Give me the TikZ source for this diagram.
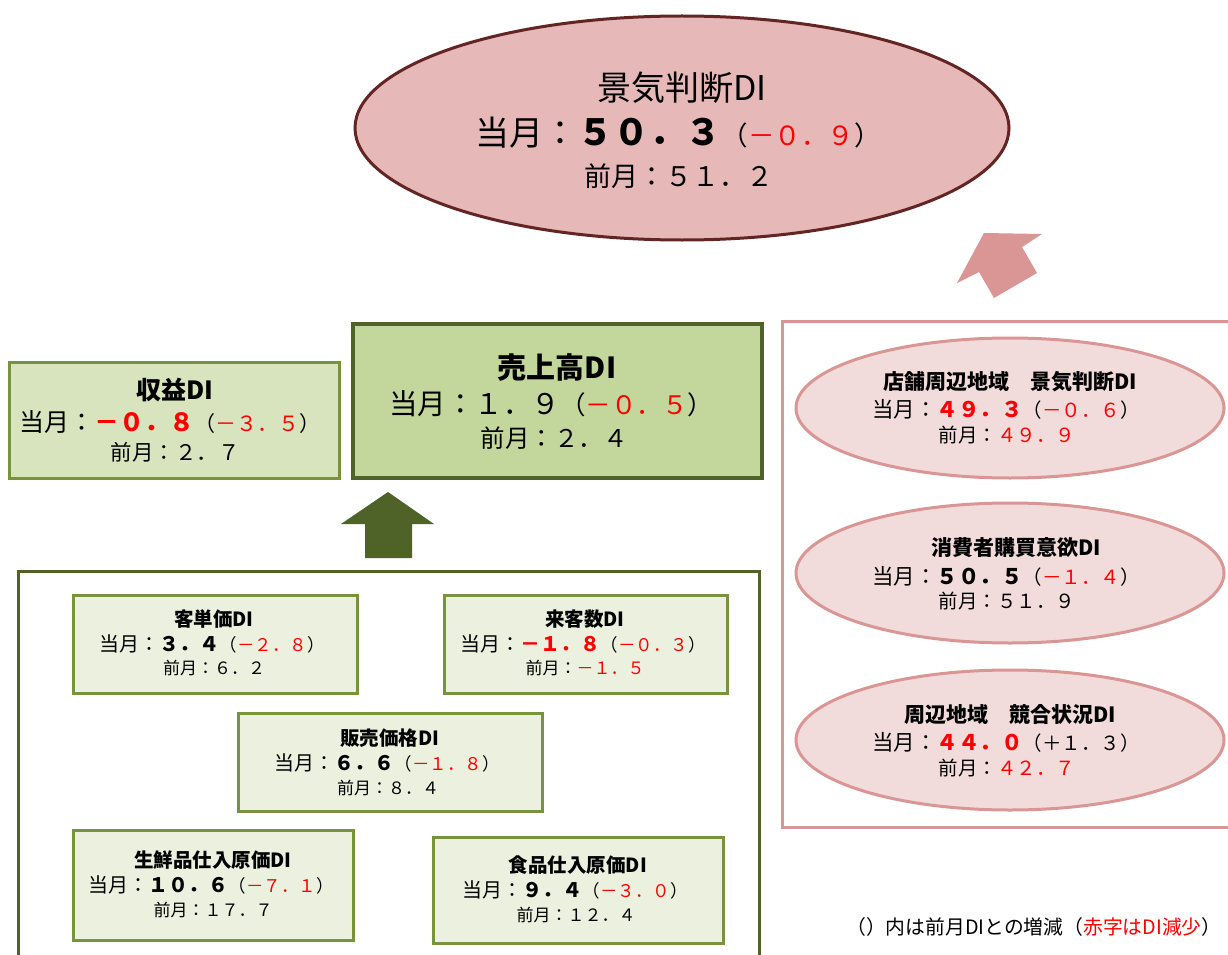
\documentclass[tikz,border=0pt]{standalone}
\usepackage{fontspec}
\setmainfont{Noto Sans CJK JP}
\usetikzlibrary{shapes.geometric}
\definecolor{bigfill}{HTML}{E6B8B7}
\definecolor{bigline}{HTML}{632523}
\definecolor{pinkline}{HTML}{D99694}
\definecolor{pinkfill}{HTML}{F2DCDB}
\definecolor{gfill1}{HTML}{D7E4BD}
\definecolor{gfill2}{HTML}{C3D69B}
\definecolor{gfill3}{HTML}{EBF1DE}
\definecolor{gline}{HTML}{77933C}
\definecolor{dgline}{HTML}{4F6228}
\newcommand{\rd}[1]{\textcolor{red}{#1}}
\newcommand{\fs}[1]{\fontsize{#1}{#1}\selectfont}
\tikzset{
  bigell/.style={ellipse, draw=bigline, fill=bigfill, line width=3pt, minimum width=654pt, minimum height=224pt, inner sep=0pt},
  pinkell/.style={ellipse, draw=pinkline, fill=pinkfill, line width=3pt, minimum width=428pt, minimum height=140pt, inner sep=0pt},
  gbox/.style={rectangle, draw=gline, fill=gfill3, line width=3pt, inner sep=0pt},
  txt/.style={inner sep=0pt, text=black},
  btitle/.style={txt, font=\fs{19.5}\bfseries},
  bprev/.style={txt, font=\fs{17}},
}
\begin{document}
\begin{tikzpicture}[x=1pt,y=-1pt]
\useasboundingbox (0,0) rectangle (1228,955);
\clip (0,0) rectangle (1228,955);
\fill[white] (0,0) rectangle (1228,955);

% top ellipse
\node[bigell] (top) at (682,128) {};
\node[txt, font=\fs{34}] (topa) at (682,88) {景気判断DI};
\node[txt] (topb) at (678,133) {\fs{34}当月：\fs{36}\bfseries ５０．３\mdseries\fs{26.5}（\rd{－０．９}）};
\node[txt, font=\fs{27}] (topc) at (679,176) {前月：５１．２};

% pink arrow
\fill[pinkline] (984,233) -- (1042,234) -- (1022,247) -- (1037,273) -- (994,298) -- (979,272) -- (957,283) -- cycle;

% 収益DI
\node[rectangle, draw=gline, fill=gfill1, line width=3pt, minimum width=330pt, minimum height=116pt, inner sep=0pt] (shueki) at (174,420) {};
\node[txt, font=\fs{25}\bfseries] (shuekia) at (175,390) {収益DI};
\node[txt] (shuekib) at (170,422) {\fs{25}当月：\bfseries\rd{－０．８}\mdseries\fs{21}（\rd{－３．５}）};
\node[txt, font=\fs{21.5}] (shuekic) at (175,452) {前月：２．７};

% 売上高DI
\node[rectangle, draw=dgline, fill=gfill2, line width=3.5pt, minimum width=409pt, minimum height=154pt, inner sep=0pt] (uri) at (557.5,401) {};
\node[txt, font=\fs{29}\bfseries] (uria) at (557,368) {売上高DI};
\node[txt] (urib) at (551,404) {\fs{28.5}当月：１．９\fs{25.5}（\rd{－０．５}）};
\node[txt, font=\fs{24.5}] (uric) at (554,438) {前月：２．４};

% green arrow
\fill[dgline] (388,492) -- (434,524) -- (412,524) -- (412,558) -- (365,558) -- (365,524) -- (341,524) -- cycle;

% right container
\draw[pinkline, line width=3pt] (1240,321) -- (782,321) -- (782,827) -- (1240,827);
\node[pinkell] (e1) at (1010,408) {};
\node[txt, font=\fs{21}\bfseries] (e1a) at (1010,382) {店舗周辺地域　景気判断DI};
\node[txt] (e1b) at (1006,409) {\fs{21.5}当月：\bfseries\rd{４９．３}\mdseries\fs{19.5}（\rd{－０．６}）};
\node[txt, font=\fs{19.5}] (e1c) at (1007,435) {前月：\rd{４９．９}};

\node[pinkell] (e2) at (1010,573) {};
\node[txt, font=\fs{21}\bfseries] (e2a) at (1016,548) {消費者購買意欲DI};
\node[txt] (e2b) at (1006,576) {\fs{21.5}当月：\bfseries ５０．５\mdseries\fs{19.5}（\rd{－１．４}）};
\node[txt, font=\fs{19.5}] (e2c) at (1007,601) {前月：５１．９};

\node[pinkell] (e3) at (1010,740) {};
\node[txt, font=\fs{21}\bfseries] (e3a) at (1010,715) {周辺地域　競合状況DI};
\node[txt] (e3b) at (1006,742) {\fs{21.5}当月：\bfseries\rd{４４．０}\mdseries\fs{19.5}（＋１．３）};
\node[txt, font=\fs{19.5}] (e3c) at (1007,768) {前月：\rd{４２．７}};

% lower container
\draw[dgline, line width=3pt] (18,965) -- (18,571) -- (759,571) -- (759,965);

\node[gbox, minimum width=284pt, minimum height=98pt] (b1) at (215,644) {};
\node[btitle] (b1a) at (214,619) {客単価DI};
\node[txt] (b1b) at (212,644) {\fs{20}当月：\bfseries ３．４\mdseries\fs{17.5}（\rd{－２．８}）};
\node[bprev] (b1c) at (214,668) {前月：６．２};

\node[gbox, minimum width=283pt, minimum height=98pt] (b2) at (585.5,644) {};
\node[btitle] (b2a) at (585,619) {来客数DI};
\node[txt] (b2b) at (583,644) {\fs{20}当月：\bfseries\rd{－１．８}\mdseries\fs{17.5}（\rd{－０．３}）};
\node[bprev] (b2c) at (585,668) {前月：\rd{－１．５}};

\node[gbox, minimum width=304pt, minimum height=98pt] (b3) at (390,762) {};
\node[btitle] (b3a) at (390,738) {販売価格DI};
\node[txt] (b3b) at (387,763) {\fs{20}当月：\bfseries ６．６\mdseries\fs{17.5}（\rd{－１．８}）};
\node[bprev] (b3c) at (388,788) {前月：８．４};

\node[gbox, minimum width=280pt, minimum height=110pt] (b4) at (213,885) {};
\node[btitle] (b4a) at (213,860) {生鮮品仕入原価DI};
\node[txt] (b4b) at (211,885) {\fs{20}当月：\bfseries １０．６\mdseries\fs{17.5}（\rd{－７．１}）};
\node[bprev] (b4c) at (213,910) {前月：１７．７};

\node[gbox, minimum width=290pt, minimum height=106pt] (b5) at (578,890) {};
\node[btitle] (b5a) at (578,865) {食品仕入原価DI};
\node[txt] (b5b) at (575,890) {\fs{20}当月：\bfseries ９．４\mdseries\fs{17.5}（\rd{－３．０}）};
\node[bprev] (b5c) at (576,915) {前月：１２．４};

% footnote
\node[txt, anchor=west, font=\fs{19.8}] (note) at (846,927) {（）内は前月DIとの増減（\rd{赤字はDI減少}）};
\end{tikzpicture}
\end{document}
